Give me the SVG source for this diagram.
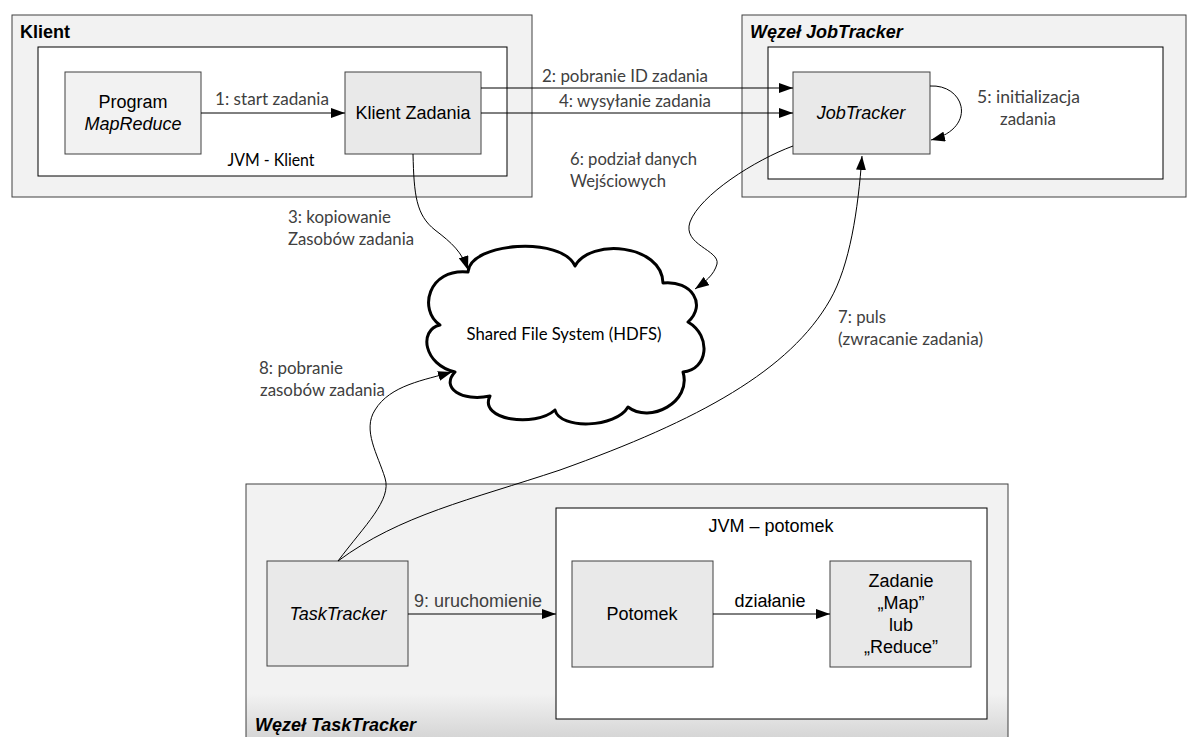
<svg xmlns="http://www.w3.org/2000/svg" width="1198" height="737" viewBox="0 0 1198 737">
<defs>
<style>
.outer{fill:#f2f2f2;stroke:#404040;stroke-width:1}
.inner{fill:#ffffff;stroke:#000000;stroke-width:1}
.box{fill:#e9e9e9;stroke:#404040;stroke-width:1}
.box2{fill:#f2f2f2;stroke:#404040;stroke-width:1}
.t{font-family:"Liberation Sans",Arial,sans-serif;font-size:18px;fill:#000}
.b{font-weight:bold}
.i{font-style:italic}
.lbl{font-family:Lato,"Open Sans",sans-serif;font-size:17.5px;fill:#404040}
.g{fill:#404040}
.conn{fill:none;stroke:#000;stroke-width:1}
.cloud{fill:#fff;stroke:#000;stroke-width:3;stroke-linejoin:round}
</style>
<marker id="ah" viewBox="0 0 14 10" refX="14" refY="5" markerWidth="14" markerHeight="10" markerUnits="userSpaceOnUse" orient="auto">
<path d="M0,0 L14,5 L0,10 z" fill="#000"/>
</marker>
<linearGradient id="ttg" x1="0" y1="0" x2="0" y2="1">
<stop offset="0" stop-color="#f2f2f2"/>
<stop offset="0.8" stop-color="#f2f2f2"/>
<stop offset="1" stop-color="#d0d0d0"/>
</linearGradient>
</defs>
<rect width="1198" height="737" fill="#fff"/>

<g id="klient">
<rect class="outer" x="12" y="15" width="520" height="182"/>
<text class="t b" x="20" y="38">Klient</text>
<g id="jvm-klient">
<rect class="inner" x="38" y="47" width="469" height="129"/>
<text class="lbl" x="271" y="166" text-anchor="middle" textLength="87" lengthAdjust="spacingAndGlyphs" fill="#000" style="fill:#000">JVM - Klient</text>
</g>
</g>
<g id="program">
<rect class="box2" x="65" y="72" width="136" height="82"/>
<text class="t" x="133" y="108" text-anchor="middle">Program</text>
<text class="t i" x="133" y="130" text-anchor="middle">MapReduce</text>
</g>
<g id="klient-zadania">
<rect class="box" x="345" y="72" width="136" height="82"/>
<text class="t" x="413" y="119" text-anchor="middle">Klient Zadania</text>
</g>

<g id="jobtracker-node">
<rect class="outer" x="742" y="15" width="444" height="182"/>
<text class="t b i" x="750" y="38">Węzeł JobTracker</text>
<rect class="inner" x="768" y="47" width="395" height="132"/>
</g>
<g id="jobtracker">
<rect class="box" x="793" y="72" width="137" height="82"/>
<text class="t i" x="861" y="119" text-anchor="middle">JobTracker</text>
</g>

<g id="hdfs">
<path class="cloud" d="M468,272 C470,242 562,236 575,266 C590,238 662,244 663,283 C692,280 707,305 688,322 C712,336 708,370 683,372 C692,402 650,424 628,407 C616,428 560,430 555,410 C535,428 478,420 490,396 C462,402 440,388 455,372 C424,365 418,330 440,325 C418,310 428,268 468,272 Z"/>
<text class="lbl" x="564" y="340" text-anchor="middle" textLength="195" lengthAdjust="spacingAndGlyphs" style="fill:#000">Shared File System (HDFS)</text>
</g>

<g id="tasktracker-node">
<rect x="246" y="484" width="762" height="262" fill="url(#ttg)" stroke="#404040" stroke-width="1"/>
<text class="t b i" x="255" y="731">Węzeł TaskTracker</text>
</g>
<g id="jvm-potomek">
<rect class="inner" x="556" y="508" width="431" height="211"/>
<text class="t" x="771" y="532" text-anchor="middle">JVM – potomek</text>
</g>
<g id="tasktracker">
<rect class="box" x="267" y="561" width="141" height="105"/>
<text class="t i" x="338" y="620" text-anchor="middle">TaskTracker</text>
</g>
<g id="potomek">
<rect class="box" x="572" y="561" width="141" height="106"/>
<text class="t" x="642" y="620" text-anchor="middle">Potomek</text>
</g>
<g id="zadanie">
<rect class="box" x="830" y="561" width="141" height="106"/>
<text class="t" x="901" y="587" text-anchor="middle">Zadanie</text>
<text class="t" x="901" y="609" text-anchor="middle">„Map”</text>
<text class="t" x="901" y="631" text-anchor="middle">lub</text>
<text class="t" x="901" y="653" text-anchor="middle">„Reduce”</text>
</g>

<g id="connectors">
<path class="conn" marker-end="url(#ah)" d="M201,113 L345,113"/>
<path class="conn" marker-end="url(#ah)" d="M481,88 L793,88"/>
<path class="conn" marker-end="url(#ah)" d="M481,113 L793,113"/>
<path class="conn" marker-end="url(#ah)" d="M930,86 C965,84 978,128 931,140"/>
<path class="conn" marker-end="url(#ah)" d="M413,154 C414,195 416,215 435,230 C452,243 462,252 468,270"/>
<path class="conn" marker-end="url(#ah)" d="M793,146 C755,160 700,195 690,222 C682,245 720,250 717,264 C714,275 705,282 695,289"/>
<path class="conn" marker-end="url(#ah)" d="M338,561 C400,515 470,500 560,470 C700,420 790,370 830,300 C850,265 858,210 862,156"/>
<path class="conn" marker-end="url(#ah)" d="M338,561 C365,525 392,500 385,478 C378,455 362,430 375,410 C390,385 425,380 452,372"/>
<path class="conn" marker-end="url(#ah)" d="M408,614 L556,614"/>
<path class="conn" marker-end="url(#ah)" d="M713,614 L830,614"/>

<text class="lbl" x="215" y="105" textLength="114" lengthAdjust="spacingAndGlyphs">1: start zadania</text>
<text class="lbl" x="542" y="82" textLength="166" lengthAdjust="spacingAndGlyphs">2: pobranie ID zadania</text>
<text class="lbl" x="559" y="107" textLength="152" lengthAdjust="spacingAndGlyphs">4: wysyłanie zadania</text>
<text class="lbl" x="977" y="103" textLength="103" lengthAdjust="spacingAndGlyphs">5: initializacja</text>
<text class="lbl" x="1000" y="125" textLength="56" lengthAdjust="spacingAndGlyphs">zadania</text>
<text class="lbl" x="570" y="165" textLength="127" lengthAdjust="spacingAndGlyphs">6: podział danych</text>
<text class="lbl" x="570" y="187" textLength="96" lengthAdjust="spacingAndGlyphs">Wejściowych</text>
<text class="lbl" x="288" y="223" textLength="103" lengthAdjust="spacingAndGlyphs">3: kopiowanie</text>
<text class="lbl" x="288" y="245" textLength="126" lengthAdjust="spacingAndGlyphs">Zasobów zadania</text>
<text class="lbl" x="838" y="323" textLength="48" lengthAdjust="spacingAndGlyphs">7: puls</text>
<text class="lbl" x="838" y="345" textLength="145" lengthAdjust="spacingAndGlyphs">(zwracanie zadania)</text>
<text class="lbl" x="259" y="374" textLength="84" lengthAdjust="spacingAndGlyphs">8: pobranie</text>
<text class="lbl" x="260" y="396" textLength="125" lengthAdjust="spacingAndGlyphs">zasobów zadania</text>
<text class="t g" x="414" y="607">9: uruchomienie</text>
<text class="t" x="770" y="607" text-anchor="middle">działanie</text>
</g>
</svg>
